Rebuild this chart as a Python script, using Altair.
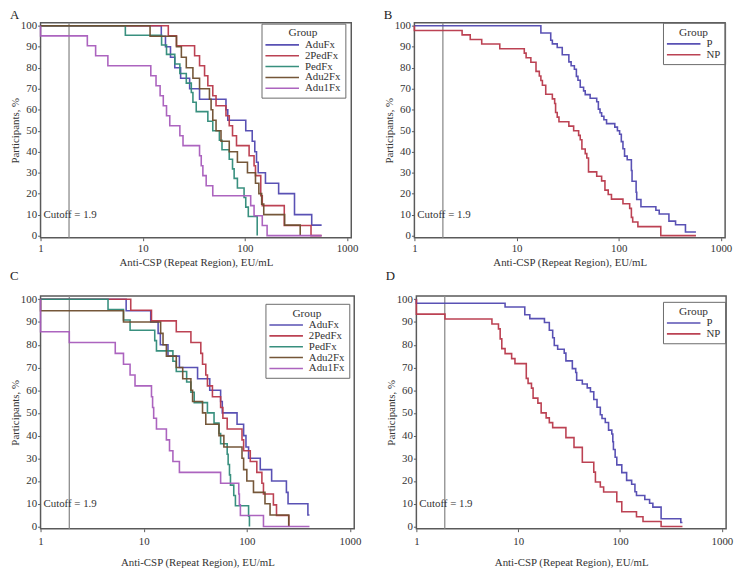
import altair as alt
import pandas as pd

FONT = "Liberation Serif"
CUTOFF = 1.9
CUTOFF_LABEL = "Cutoff = 1.9"
CUTOFF_LABEL_Y = 10

GROUPS5 = ["AduFx", "2PedFx", "PedFx", "Adu2Fx", "Adu1Fx"]
COLORS5 = ["#5048b0", "#b8384a", "#2e8a78", "#6e4e2e", "#a85cbc"]
GROUPS2 = ["P", "NP"]
COLORS2 = ["#5048b0", "#b8384a"]

X_TICKS = [1, 10, 100, 1000]
Y_TICKS = [0, 10, 20, 30, 40, 50, 60, 70, 80, 90, 100]

# ---------- Panel A ----------
A_AduFx_x = [1, 15.2, 16.7, 18.7, 20.6, 23.5, 28.8, 36.0, 65.3, 68, 102, 118, 125, 130, 135, 159, 214, 306, 451, 564]
A_AduFx_y = [100, 95, 90, 85, 80, 75, 70, 65, 60, 55, 50, 45, 40, 35, 30, 25, 20, 10, 5, 5]
A_2PedFx_x = [1, 17.8, 21.4, 32.2, 36.0, 40.3, 43.4, 48.5, 52.2, 65.3, 70.3, 75.7, 82.8, 110, 123, 127, 143, 148, 243, 444, 564]
A_2PedFx_y = [100, 95.2, 90.5, 85.7, 81.0, 76.2, 71.4, 66.7, 61.9, 57.1, 52.4, 47.6, 42.9, 38.1, 33.3, 28.6, 19.0, 14.3, 4.8, 0, 0]
A_PedFx_x = [1, 6.76, 15.3, 17.1, 20.6, 23.1, 26.7, 29.9, 31.0, 33.4, 43.4, 48.5, 56.3, 59.7, 70.3, 75.7, 78.5, 84.5, 98.2, 102, 108, 132]
A_PedFx_y = [100, 95.5, 90.9, 86.4, 81.8, 77.3, 72.7, 68.2, 63.6, 59.1, 54.5, 50.0, 45.5, 40.9, 36.4, 31.8, 27.3, 22.7, 18.2, 13.6, 9.1, 0]
A_Adu2Fx_x = [1, 11.8, 21.4, 23.9, 26.7, 31.0, 36.0, 45.0, 46.7, 48.5, 52.2, 58.4, 70.3, 84.5, 106, 127, 137, 146, 153, 245, 348]
A_Adu2Fx_y = [100, 95, 90, 85, 80, 75, 70, 65, 60, 55, 50, 45, 40, 35, 30, 25, 20, 15, 10, 5, 0]
A_Adu1Fx_x = [1, 1, 2.87, 3.46, 4.56, 12.0, 13.5, 14.8, 15.9, 17.1, 18.4, 23.1, 24.8, 36.0, 37.4, 38.8, 41.8, 48.5, 114, 123, 148, 165, 564]
A_Adu1Fx_y = [100, 95.2, 90.5, 85.7, 81.0, 76.2, 71.4, 66.7, 61.9, 57.1, 52.4, 47.6, 42.9, 38.1, 33.3, 28.6, 23.8, 19.0, 14.3, 9.5, 4.8, 0, 0]

# ---------- Panel B ----------
B_P_x = [1, 17.3, 21.6, 22.4, 25.0, 28.0, 32.5, 34.2, 36.8, 38.5, 39.9, 42.0, 45.3, 47.0, 52.5, 60.9, 63.2, 65.6, 68.0, 71.6,
         76.0, 91.5, 97.1, 102, 106, 110, 114, 121, 133, 135, 148, 150, 165, 231, 249, 310, 360, 450, 570]
B_P_y = [100, 96.6, 93.1, 91.4, 89.7, 86.2, 82.8, 81.0, 79.3, 75.9, 74.1, 70.7, 69.0, 67.2, 65.5, 63.8, 60.3, 58.6, 56.9, 55.2,
         53.4, 51.7, 50.0, 48.3, 44.8, 41.4, 37.9, 36.2, 31.0, 25.9, 20.7, 17.2, 13.8, 12.1, 10.3, 6.9, 5.2, 1.7, 1.7]
B_NP_x = [1, 1, 2.93, 3.52, 4.56, 6.85, 11.9, 12.4, 13.8, 15.5, 16.7, 17.3, 17.9, 19.3, 22.4, 23.6, 24.1, 25.0, 26.0, 32.5,
          36.2, 40.5, 42.0, 43.6, 47.0, 48.7, 50.6, 60.9, 68.0, 73.3, 78.9, 84.9, 110, 128, 133, 137, 154, 258, 570]
B_NP_y = [100, 97.8, 95.7, 93.5, 91.3, 89.1, 87.0, 84.8, 82.6, 78.3, 76.1, 73.9, 71.7, 67.4, 65.2, 63.0, 58.7, 56.5, 54.3, 52.2,
          50.0, 47.8, 45.7, 41.3, 39.1, 37.0, 30.4, 28.3, 26.1, 21.7, 19.6, 17.4, 15.2, 13.0, 8.7, 6.5, 4.3, 0, 0]

# ---------- Panel C ----------
C_AduFx_x = [1, 6.76, 11.7, 13.8, 14.5, 17.2, 22.2, 33.3, 43.7, 55.7, 57.8, 80.4, 93.1, 98.1, 104, 135, 174, 242, 251, 391, 405]
C_AduFx_y = [100, 95, 90, 85, 80, 75, 70, 65, 60, 55, 50, 45, 40, 35, 30, 25, 20, 15, 10, 5, 5]
C_2PedFx_x = [1, 7.49, 11.9, 20.7, 28.7, 35.8, 37.2, 40.0, 41.5, 46.4, 55.7, 58.6, 64.5, 89.8, 93.1, 108, 125, 140, 145, 181, 194, 255]
C_2PedFx_y = [100, 95.2, 90.5, 85.7, 81.0, 76.2, 71.4, 66.7, 61.9, 57.1, 52.4, 47.6, 42.9, 38.1, 33.3, 28.6, 23.8, 19.0, 14.3, 9.5, 4.8, 0]
C_PedFx_x = [1, 4.51, 6.37, 7.38, 12.8, 13.3, 19.2, 20.7, 26.1, 28.7, 30.9, 41.5, 48.1, 53.7, 55.7, 64.5, 65.9, 67.9, 69.4, 74.7, 77.5, 104, 106]
C_PedFx_y = [100, 95.5, 90.9, 86.4, 81.8, 77.3, 72.7, 68.2, 63.6, 59.1, 54.5, 50.0, 45.5, 40.9, 36.4, 31.8, 27.3, 22.7, 18.2, 13.6, 9.1, 4.5, 0]
C_Adu2Fx_x = [1, 1, 6.37, 14.6, 15.4, 16.6, 20.7, 23.9, 28.7, 29.8, 37.2, 40.0, 53.7, 59.9, 89.8, 93.1, 100, 116, 150, 168, 255]
C_Adu2Fx_y = [100, 95, 90, 85, 80, 75, 70, 65, 60, 55, 50, 45, 40, 35, 30, 25, 20, 15, 10, 5, 0]
C_Adu1Fx_x = [1, 1, 1.90, 5.30, 6.37, 7.38, 8.24, 11.9, 12.2, 12.5, 13.3, 16.6, 17.8, 19.2, 22.2, 55.7, 83.5, 84.7, 86.6, 145, 405]
C_Adu1Fx_y = [100, 85.7, 81.0, 76.2, 71.4, 66.7, 61.9, 57.1, 52.4, 47.6, 42.9, 38.1, 33.3, 28.6, 23.8, 19.0, 14.3, 9.5, 4.8, 0, 0]

# ---------- Panel D ----------
D_P_x = [1, 1, 7.43, 11.6, 13.0, 18.1, 20.2, 21.8, 22.6, 24.4, 28.3, 29.4, 34.0, 36.7, 37.5, 42.6, 47.6, 51.2, 55.2, 59.4,
         64.0, 66.5, 71.6, 77.1, 83.0, 84.9, 86.1, 89.5, 92.9, 104, 116, 130, 140, 145, 175, 195, 210, 253, 395, 410]
D_P_y = [100, 98.3, 96.6, 93.2, 91.5, 89.8, 86.4, 83.1, 79.7, 78.0, 76.3, 72.9, 69.5, 67.8, 64.4, 62.7, 61.0, 59.3, 55.9, 52.5,
         49.2, 47.5, 45.8, 42.4, 40.7, 37.3, 33.9, 30.5, 27.1, 23.7, 20.3, 18.6, 15.3, 13.6, 11.9, 10.2, 8.5, 3.4, 1.7, 1.7]
D_NP_x = [1, 1, 1.91, 5.52, 6.40, 6.65, 6.90, 7.43, 8.62, 9.29, 12.0, 12.5, 13.5, 14.0, 15.6, 16.8, 18.8, 20.2, 21.8, 29.4,
          35.3, 42.6, 55.2, 57.3, 64.0, 69.0, 92.9, 104, 145, 168, 253, 410]
D_NP_y = [100, 93.5, 91.3, 89.1, 87.0, 82.6, 78.3, 76.1, 73.9, 71.7, 65.2, 63.0, 60.9, 56.5, 54.3, 50.0, 47.8, 45.7, 43.5, 39.1,
          34.8, 28.3, 23.9, 19.6, 17.4, 15.2, 10.9, 6.5, 4.3, 2.2, 0, 0]


def panel(letter, groups, colors, xs, ys, W, H, legend_x, legend_y,
          label_pad, title_pad, letter_y):
    rows = []
    for g, xl, yl in zip(groups, xs, ys):
        for i, (xv, yv) in enumerate(zip(xl, yl)):
            rows.append({"group": g, "x": xv, "y": yv, "i": i})
    df = pd.DataFrame(rows)

    xscale = alt.Scale(type="log", domain=[1, 1100], nice=False)
    yscale = alt.Scale(domain=[-1, 101.5], nice=False, zero=False)
    xaxis = alt.Axis(values=X_TICKS, format="d", title="Anti-CSP (Repeat Region), EU/mL",
                     labelPadding=label_pad, titlePadding=title_pad, labelFlush=False,
                     labelOverlap=False)
    yaxis = alt.Axis(values=Y_TICKS, title="Participants, %", titlePadding=0,
                     labelPadding=1, labelOverlap=False)

    lines = alt.Chart(df).mark_line(interpolate="step-after", strokeWidth=1.6, opacity=0.95).encode(
        x=alt.X("x:Q", scale=xscale, axis=xaxis),
        y=alt.Y("y:Q", scale=yscale, axis=yaxis),
        color=alt.Color("group:N", scale=alt.Scale(domain=groups, range=colors),
                        legend=alt.Legend(title="Group", orient="none", legendX=legend_x, legendY=legend_y,
                                          strokeColor="#6a6a6a", padding=4, titleAnchor="middle",
                                          titleFont=FONT, titleFontSize=11.5, titleFontWeight="normal",
                                          titleColor="#333", titlePadding=0,
                                          labelFont=FONT, labelFontSize=11, labelColor="#333",
                                          symbolType="M-3.4,0H3.4", symbolSize=100,
                                          symbolOffset=11, labelOffset=17,
                                          symbolStrokeWidth=1.6, rowPadding=-0.8)),
        order="i:Q",
    )

    cut = alt.Chart(pd.DataFrame({"x": [CUTOFF]})).mark_rule(color="#8c8c8c", strokeWidth=1.3).encode(
        x=alt.X("x:Q", scale=xscale, axis=xaxis), y=alt.value(0), y2=alt.value(H)
    )
    cut_text = alt.Chart(pd.DataFrame({"t": [CUTOFF_LABEL], "y": [CUTOFF_LABEL_Y]})).mark_text(
        align="left", baseline="middle", font=FONT, fontSize=11, color="#333"
    ).encode(x=alt.value(3), y=alt.Y("y:Q", scale=yscale, axis=yaxis), text="t:N")

    letter_text = alt.Chart(pd.DataFrame({"t": [letter]})).mark_text(
        align="left", baseline="top", font=FONT, fontSize=13, color="#222"
    ).encode(x=alt.value(-31), y=alt.value(letter_y), text="t:N")

    return alt.layer(cut, lines, cut_text, letter_text).properties(width=W, height=H)


pA = panel("A", GROUPS5, COLORS5,
           [A_AduFx_x, A_2PedFx_x, A_PedFx_x, A_Adu2Fx_x, A_Adu1Fx_x],
           [A_AduFx_y, A_2PedFx_y, A_PedFx_y, A_Adu2Fx_y, A_Adu1Fx_y],
           315, 218, 224, 1, 2, 3, -13.5)
pB = panel("B", GROUPS2, COLORS2, [B_P_x, B_NP_x], [B_P_y, B_NP_y],
           315, 218, 252, 0, 2, 3, -13.5)
pC = panel("C", GROUPS5, COLORS5,
           [C_AduFx_x, C_2PedFx_x, C_PedFx_x, C_Adu2Fx_x, C_Adu1Fx_x],
           [C_AduFx_y, C_2PedFx_y, C_PedFx_y, C_Adu2Fx_y, C_Adu1Fx_y],
           318, 236, 228, 8, 4, 10, -26)
pD = panel("D", GROUPS2, COLORS2, [D_P_x, D_NP_x], [D_P_y, D_NP_y],
           314, 236, 250, 6, 4, 10, -26)

row1 = alt.hconcat(pA, pB, spacing=64, bounds="flush").resolve_scale(color="independent")
row2 = alt.hconcat(pC, pD, spacing=63, bounds="flush").resolve_scale(color="independent")

chart = alt.vconcat(row1, row2, spacing=1).resolve_scale(
    color="independent"
).properties(
    padding={"left": 0, "top": -4, "right": 0, "bottom": 0}
).configure_view(
    stroke="#5a5a5a", strokeWidth=1.5
).configure_axis(
    domain=False, grid=False, tickColor="#5a5a5a", tickSize=3, tickWidth=1,
    labelFont=FONT, labelFontSize=11, labelColor="#333",
    titleFont=FONT, titleFontSize=11, titleFontWeight="normal", titleColor="#333"
).configure_legend(
    strokeWidth=1
)

chart.save("out.html", embed_options={"renderer": "svg", "actions": False})
